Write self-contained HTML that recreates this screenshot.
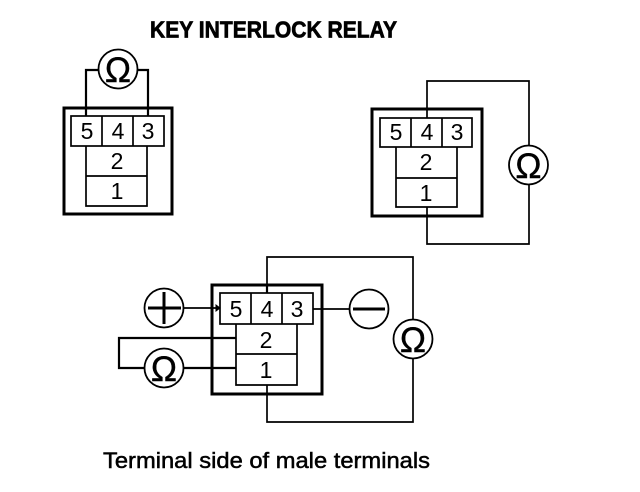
<!DOCTYPE html>
<html>
<head>
<meta charset="utf-8">
<style>
html,body{margin:0;padding:0;background:#fff;width:640px;height:492px;overflow:hidden}
svg{display:block}
text{font-family:"Liberation Sans",sans-serif;fill:#000}
.n{font-size:23px;text-anchor:middle}
.o{font-size:35px;text-anchor:middle;stroke:#000;stroke-width:.4}
.l{fill:none;stroke:#000;stroke-width:1.7}
.h{fill:none;stroke:#000;stroke-width:2.2}
.b{fill:none;stroke:#000;stroke-width:3}
.c{fill:#fff;stroke:#000;stroke-width:1.8}
</style>
</head>
<body>
<svg width="640" height="492" viewBox="0 0 640 492" xmlns="http://www.w3.org/2000/svg">
<rect width="640" height="492" fill="#fff"/>
<text x="150" y="37.5" font-size="23" font-weight="bold" textLength="247" lengthAdjust="spacingAndGlyphs" stroke="#000" stroke-width="0.7">KEY INTERLOCK RELAY</text>
<text x="103" y="468" font-size="22" textLength="327" lengthAdjust="spacingAndGlyphs" stroke="#000" stroke-width="0.5">Terminal side of male terminals</text>

<!-- Top left -->
<g>
<path class="h" d="M86 116V70H100M136 70H148V116"/>
<rect class="b" x="64" y="108" width="108" height="106"/>
<rect class="l" x="71" y="116" width="93" height="30"/>
<path class="l" d="M102 116V146M133 116V146"/>
<path class="l" d="M86 146V206H147V146M86 176H147"/>
<text class="n" x="87" y="139">5</text><text class="n" x="118" y="139">4</text><text class="n" x="148" y="139">3</text>
<text class="n" x="117" y="169">2</text><text class="n" x="117" y="199">1</text>
<circle class="c" cx="118" cy="69" r="19.5"/>
<text class="o" x="118" y="82">Ω</text>
</g>

<!-- Top right -->
<g>
<path class="l" d="M427 118V81H529V145M529 185V244H427V207"/>
<rect class="b" x="372" y="109" width="110" height="107"/>
<rect class="l" x="380" y="118" width="92" height="29"/>
<path class="l" d="M411 118V147M442 118V147"/>
<path class="l" d="M396 147V207H457V147M396 178H457"/>
<text class="n" x="396" y="140">5</text><text class="n" x="427" y="140">4</text><text class="n" x="457" y="140">3</text>
<text class="n" x="426" y="170">2</text><text class="n" x="426" y="201">1</text>
<circle class="c" cx="528.5" cy="165" r="19.5"/>
<text class="o" x="528.5" y="178">Ω</text>
</g>

<!-- Bottom -->
<g>
<path class="h" d="M267 293V284"/>
<path class="l" d="M267 285V257H413V319M413 359V422H267V385"/>
<path class="l" d="M184 308H220M313 309H349"/>
<path class="h" d="M236 338H119V368H144M184 368H236"/>
<rect class="b" x="212" y="285" width="110" height="109"/>
<rect class="l" x="220" y="293" width="93" height="31"/>
<path class="l" d="M251 293V324M282 293V324"/>
<path class="l" d="M236 324V385H297V324M236 354H297"/>
<path d="M216 305L220 308L216 311Z" fill="#000" stroke="#000"/>
<text class="n" x="236" y="317">5</text><text class="n" x="267" y="317">4</text><text class="n" x="297" y="317">3</text>
<text class="n" x="266" y="348">2</text><text class="n" x="266" y="378">1</text>
<circle class="c" cx="164" cy="308" r="19.5"/>
<path d="M148 308H181M164 292V324" stroke="#000" stroke-width="3" fill="none"/>
<circle class="c" cx="369" cy="309" r="19.5"/>
<path d="M353 309H385" stroke="#000" stroke-width="3" fill="none"/>
<circle class="c" cx="164" cy="368" r="19.5"/>
<text class="o" x="164" y="381">Ω</text>
<circle class="c" cx="413" cy="339" r="19.5"/>
<text class="o" x="413" y="352">Ω</text>
</g>
</svg>
</body>
</html>
